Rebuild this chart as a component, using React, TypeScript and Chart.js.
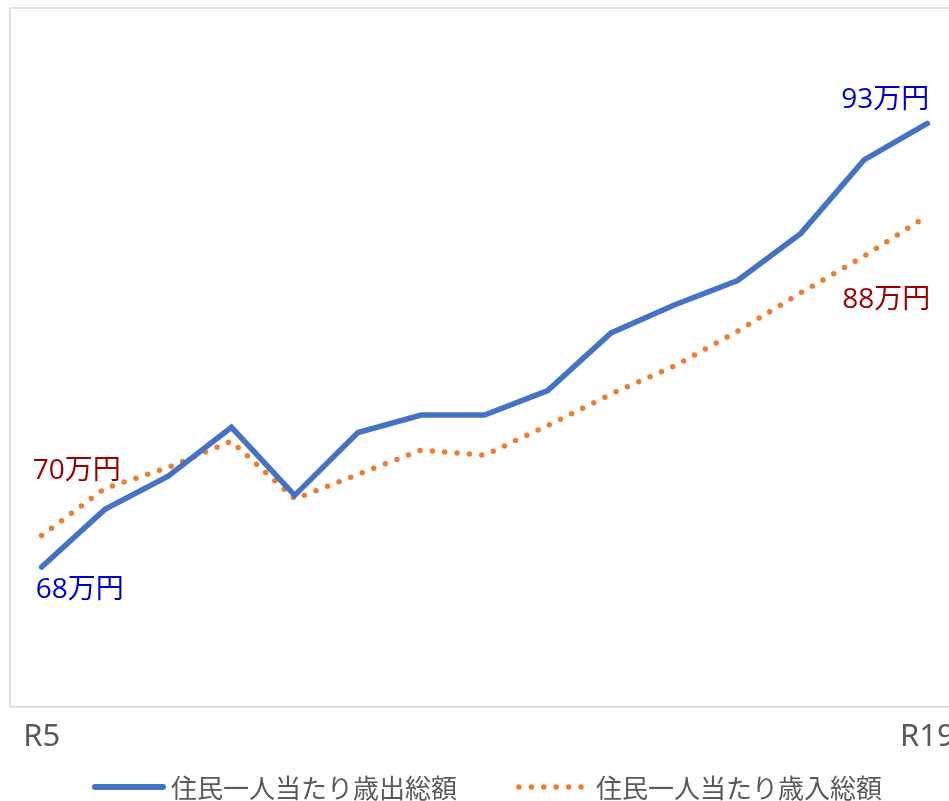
import React, { useEffect, useRef } from "react";
import { Chart, registerables } from "chart.js";

Chart.register(...registerables);

const categories = ["R5", "R6", "R7", "R8", "R9", "R10", "R11", "R12", "R13", "R14", "R15", "R16", "R17", "R18", "R19"];
const tickLabels = ["R5", "", "", "", "", "", "", "", "", "", "", "", "", "", "R19"];
const expenditure = [68.0, 71.3, 73.2, 76.0, 72.1, 75.7, 76.7, 76.7, 78.1, 81.4, 83.0, 84.4, 87.1, 91.3, 93.4];
const revenue = [69.8, 72.5, 73.7, 75.2, 71.9, 73.3, 74.7, 74.4, 76.1, 77.9, 79.5, 81.5, 83.7, 85.8, 88.1];
const seriesNames = ["住民一人当たり歳出総額", "住民一人当たり歳入総額"];
const pointLabels = [
  { ds: 0, idx: 0, text: "68万円", color: "#0000CC", align: "left", dx: -6, dy: 23 },
  { ds: 0, idx: 14, text: "93万円", color: "#0000CC", align: "right", dx: 2, dy: -23 },
  { ds: 1, idx: 0, text: "70万円", color: "#990000", align: "left", dx: -9, dy: -65 },
  { ds: 1, idx: 14, text: "88万円", color: "#990000", align: "right", dx: 3, dy: 84 },
];

const CJK = '"Noto Sans CJK JP", "Noto Sans", sans-serif';
const LABEL_FONT = '"Open Sans", "Noto Sans CJK JP", sans-serif';

const framePlugin = {
  id: "frame",
  beforeDatasetsDraw(chart: any) {
    const { ctx, chartArea } = chart;
    ctx.save();
    ctx.strokeStyle = "#D9D9D9";
    ctx.lineWidth = 1.5;
    ctx.strokeRect(chartArea.left, chartArea.top, chartArea.right - chartArea.left, chartArea.bottom - chartArea.top);
    ctx.restore();
  },
};

const labelPlugin = {
  id: "pointLabels",
  afterDatasetsDraw(chart: any) {
    const { ctx } = chart;
    ctx.save();
    ctx.font = `28px ${LABEL_FONT}`;
    ctx.textBaseline = "middle";
    pointLabels.forEach((l) => {
      const el = chart.getDatasetMeta(l.ds).data[l.idx];
      if (!el) return;
      ctx.fillStyle = l.color;
      ctx.textAlign = l.align;
      ctx.fillText(l.text, el.x + l.dx, el.y + l.dy);
    });
    ctx.restore();
  },
};

const legendPlugin = {
  id: "customLegend",
  afterDraw(chart: any) {
    const { ctx } = chart;
    const y = 787;
    const items = [
      { x0: 95, x1: 163, tx: 171 },
      { x0: 519, x1: 582, tx: 596 },
    ];
    ctx.save();
    chart.data.datasets.forEach((ds: any, i: number) => {
      const it = items[i];
      ctx.beginPath();
      ctx.strokeStyle = ds.borderColor;
      ctx.lineWidth = i === 0 ? 6 : 5.5;
      ctx.lineCap = "round";
      ctx.setLineDash(ds.borderDash || []);
      ctx.moveTo(it.x0, y);
      ctx.lineTo(it.x1, y);
      ctx.stroke();
      ctx.setLineDash([]);
      ctx.fillStyle = "#595959";
      ctx.font = `26px ${CJK}`;
      ctx.textAlign = "left";
      ctx.textBaseline = "middle";
      ctx.fillText(ds.label, it.tx, y + 1);
    });
    ctx.restore();
  },
};

export default function App() {
  const ref = useRef<HTMLCanvasElement>(null);
  useEffect(() => {
    document.body.style.margin = "0";
    const chart = new Chart(ref.current as HTMLCanvasElement, {
      type: "line",
      data: {
        labels: categories,
        datasets: [
          {
            label: seriesNames[0],
            data: expenditure,
            borderColor: "#4472C4",
            backgroundColor: "#4472C4",
            borderWidth: 5.5,
            pointRadius: 0,
            tension: 0,
            borderJoinStyle: "miter",
            borderCapStyle: "round",
          },
          {
            label: seriesNames[1],
            data: revenue,
            borderColor: "#ED7D31",
            backgroundColor: "#ED7D31",
            borderWidth: 5.5,
            borderDash: [0, 12.4],
            borderCapStyle: "round",
            pointRadius: 0,
            tension: 0,
          },
        ],
      },
      options: {
        responsive: false,
        animation: false,
        layout: { padding: { left: 10, right: 11, top: 8, bottom: 33 } },
        scales: {
          x: {
            offset: true,
            grid: { display: false, drawTicks: false },
            border: { display: false },
            ticks: {
              autoSkip: false,
              maxRotation: 0,
              padding: 12,
              color: "#595959",
              font: { size: 31, family: '"Noto Sans", sans-serif' },
              callback: (_v: any, i: number) => tickLabels[i],
            },
          },
          y: { display: false, min: 60, max: 100 },
        },
        plugins: {
          legend: { display: false },
          tooltip: { enabled: false },
        },
      },
      plugins: [framePlugin, labelPlugin, legendPlugin],
    });
    return () => chart.destroy();
  }, []);
  return (
    <div style={{ width: 949, height: 801, overflow: "hidden", position: "relative" }}>
      <canvas ref={ref} width={970} height={801} style={{ width: 970, height: 801, display: "block" }} />
    </div>
  );
}
